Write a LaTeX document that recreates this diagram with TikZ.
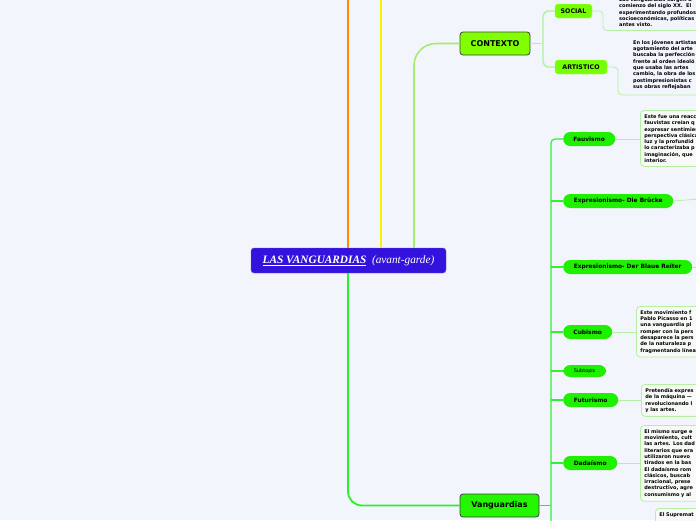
\documentclass[tikz,border=0pt]{standalone}
\usepackage{fontspec}
\setmainfont{DejaVu Sans}
\newfontfamily\titleserif{Liberation Serif}
\usetikzlibrary{positioning}
\definecolor{pageBg}{HTML}{F3F5FD}
\definecolor{rootBlue}{HTML}{3412DE}
\definecolor{ctxGreen}{HTML}{80FF00}
\definecolor{topicGreen}{HTML}{24F500}
\definecolor{subGreen}{HTML}{1EF000}
\definecolor{paleLink}{HTML}{B4F0A0}
\definecolor{midLink}{HTML}{A4EC6C}
\definecolor{brightLink}{HTML}{33EE33}
\definecolor{orangeLine}{HTML}{FF8C00}
\definecolor{yellowLine}{HTML}{FFF000}
\definecolor{boxFill}{HTML}{F7FAF7}

\begin{document}
\begin{tikzpicture}[x=1pt, y=-1pt,
          root/.style={draw=rootBlue!70!white, fill=rootBlue, rounded corners=3pt, text=white, minimum width=195pt, minimum height=25pt, inner sep=2pt},
          ctx/.style={draw=black!75, fill=ctxGreen, rounded corners=3pt, line width=0.8pt, minimum height=23pt, inner sep=2pt, font=\fontsize{8}{9}\selectfont\bfseries},
          leaf/.style={draw=ctxGreen!70!white, fill=ctxGreen!92!green, rounded corners=3pt, minimum height=14pt, inner sep=2pt, font=\fontsize{6.3}{7}\selectfont\bfseries},
          pill/.style={fill=subGreen, rounded corners=7pt, minimum height=14pt, inner sep=1pt, font=\fontsize{5.9}{6.5}\selectfont\bfseries, anchor=west},
          note/.style={draw=paleLink, fill=boxFill, rounded corners=4pt, line width=0.8pt, anchor=north west, align=left, text width=90pt, inner sep=4pt, font=\fontsize{5}{6.3}\selectfont\bfseries},
          bare/.style={anchor=north west, align=left, inner sep=0pt, font=\fontsize{5}{6.3}\selectfont\bfseries}]
        \useasboundingbox (0,0) rectangle (696,520);
        \clip (0,0) rectangle (696,520);
        \fill[pageBg] (0,0) rectangle (696,520);

        % central topic and its links
        \node[root] (root) at (348.5,260.5) {\fontsize{11.3}{13}\selectfont\titleserif\bfseries\itshape\underline{LAS VANGUARDIAS}\ \ \mdseries(avant-garde)};
        \coordinate (topO) at (348,-5);
        \coordinate (topY) at (381,-5);
        \coordinate (topG) at (414,-5);
        \draw[orangeLine, line width=2pt] (topO |- root.north) -- (topO);
        \draw[yellowLine, line width=2pt] (topY |- root.north) -- (topY);

        % contexto
        \node[ctx, minimum width=70pt] (ctx) at (495,43.5) {CONTEXTO};
        \node[leaf, minimum width=37pt] (social) at (573.5,11) {SOCIAL};
        \node[leaf, minimum width=52pt] (artis) at (581,67) {ARTISTICO};
        \draw[midLink, line width=1.6pt, rounded corners=22pt] (topG |- root.north) |- (ctx.west);
        \coordinate (ctxFork) at (543,43.5);
        \draw[paleLink, line width=1.4pt] (ctx.east) -- (ctxFork);
        \draw[paleLink, line width=1.4pt, rounded corners=6pt] (ctxFork) |- (social.west);
        \draw[paleLink, line width=1.4pt, rounded corners=6pt] (ctxFork) |- (artis.west);

        \node[bare] (socialTxt) at (619,-2.5) {Las vanguardias surgen a\\comienzo del siglo XX.\ \ El\\experimentando profundos\\socioeconómicas, políticas\\antes visto.};
        \node[bare] (artisTxt) at (633,40) {En los jóvenes artistas\\agotamiento del arte\\buscaba la perfección\\frente al orden ideoló\\que usaba las artes\\cambio, la obra de los\\postimpresionistas c\\sus obras reflejaban};
        \coordinate (socEnd) at (700,30.5);
        \coordinate (artEnd) at (700,95);
        \draw[paleLink, line width=0.8pt, rounded corners=4pt] (social.east) -| (603,30.5) -- (socEnd);
        \draw[paleLink, line width=0.8pt, rounded corners=4pt] (artis.east) -| (618,95) -- (artEnd);

        % vanguardias
        \node[ctx, fill=topicGreen, minimum width=79pt] (vang) at (499.5,505.5) {Vanguardias};
        \draw[brightLink!80!green, line width=1.8pt, rounded corners=14pt] (topO |- root.south) |- (vang.west);
        \coordinate (vFork) at (551,505.5);
        \coordinate (vBot) at (551,530);
        \draw[brightLink!80!green, line width=1.6pt] (vang.east) -- (vFork);

        \node[pill, minimum width=52pt] (fauv) at (563,139) {Fauvismo};
        \node[pill, minimum width=110pt] (bruck) at (563,201) {Expresionismo- Die Brücke};
        \node[pill, minimum width=129pt] (blaue) at (563,267) {Expresionismo- Der Blaue Reiter};
        \node[pill, minimum width=49pt] (cubis) at (563,332) {Cubismo};
        \node[pill, minimum width=43pt, minimum height=12pt, font=\fontsize{5}{6}\selectfont] (subt) at (563,371) {Subtopic};
        \node[pill, minimum width=55pt] (futur) at (563,400) {Futurismo};
        \node[pill, minimum width=54pt] (dada) at (563,463) {Dadaísmo};

        \draw[brightLink, line width=1.2pt, rounded corners=4pt] (vBot) |- (fauv.west);
        \foreach \s in {bruck,blaue,cubis,subt,futur,dada}
          \draw[brightLink, line width=1.2pt] (vFork |- \s.west) -- (\s.west);

        % notes
        \node[note] (fauvTxt) at (640,110) {Este fue una reacción\\fauvistas creían q\\expresar sentimien\\perspectiva clásica\\luz y la profundid\\lo caracterizaba p\\imaginación, que\\interior.};
        \node[note] (cubisTxt) at (636,306) {Este movimiento f\\Pablo Picasso en 1\\una vanguardia pl\\romper con la pers\\desaparece la pers\\de la naturaleza p\\fragmentando línea};
        \node[note] (futurTxt) at (641,384) {Pretendía expres\\de la máquina ---\\revolucionando l\\y las artes.};
        \node[note] (dadaTxt) at (640,425) {El mismo surge e\\movimiento, cult\\las artes. Los dad\\literarios que era\\utilizaron nuevo\\tirados en la bas\\El dadaísmo rom\\clásicos, buscab\\irracional, prese\\destructivo, agre\\consumismo y al};
        \node[note, minimum height=30pt, text depth=20pt] (supreTxt) at (655,508) {El Supremat};
        \coordinate (bruckEnd) at (700,199);
        \coordinate (blaueEnd) at (700,267);

        \draw[paleLink, line width=0.8pt] (fauv.east) -- (fauv.east -| fauvTxt.west);
        \draw[paleLink, line width=0.8pt] (bruck.east) -- (bruckEnd);
        \draw[paleLink, line width=0.8pt] (blaue.east) -- (blaueEnd);
        \draw[paleLink, line width=0.8pt] (cubis.east) -- (cubis.east -| cubisTxt.west);
        \draw[paleLink, line width=0.8pt] (futur.east) -- (futur.east -| futurTxt.west);
        \draw[paleLink, line width=0.8pt] (dada.east) -- (dada.east -| dadaTxt.west);
      \end{tikzpicture}
\end{document}
